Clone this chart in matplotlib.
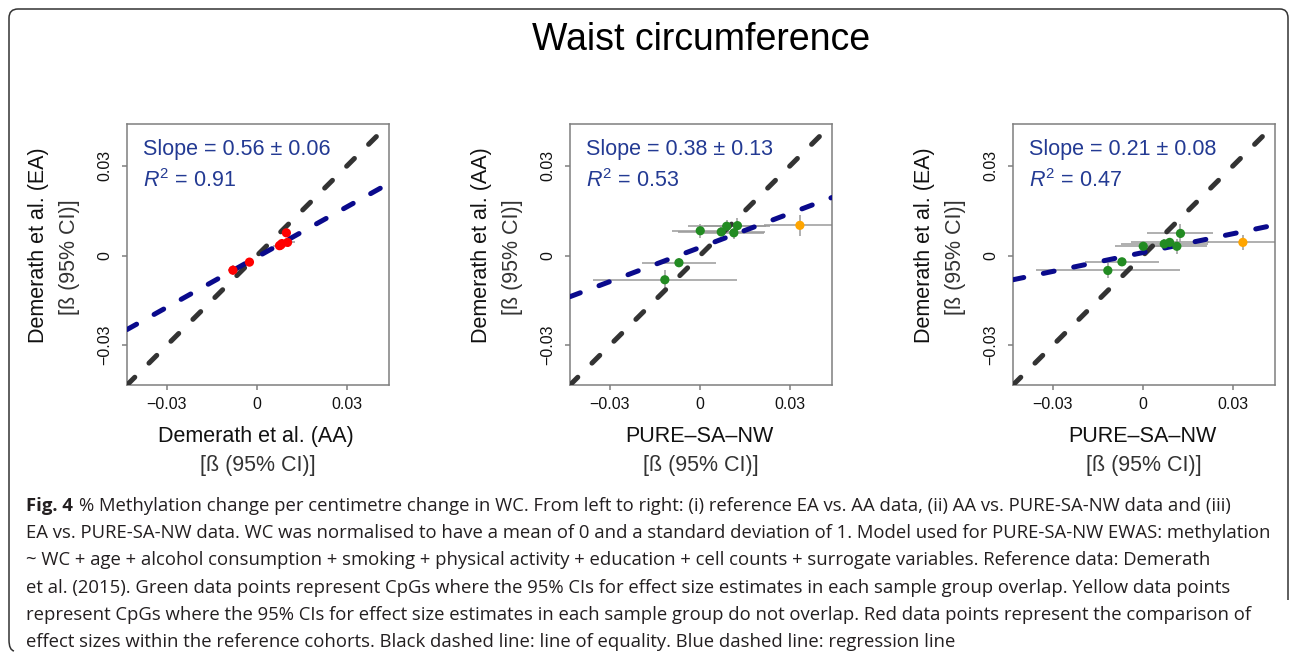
import numpy as np
import matplotlib
matplotlib.use("Agg")
import matplotlib.pyplot as plt
from matplotlib.path import Path
from matplotlib.patches import PathPatch
from matplotlib import transforms as mtransforms

plt.rcParams['font.family'] = ['Liberation Sans', 'DejaVu Sans']
plt.rcParams['mathtext.fontset'] = 'custom'
plt.rcParams['mathtext.rm'] = 'Liberation Sans'
plt.rcParams['mathtext.it'] = 'Liberation Sans:italic'

# ---- data ----
title = "Waist circumference"
ylabels = ["Demerath et al. (EA)", "Demerath et al. (AA)", "Demerath et al. (EA)"]
xlabels = ["Demerath et al. (AA)", "PURE\u2013SA\u2013NW", "PURE\u2013SA\u2013NW"]
unit_label = "[\u00df (95% CI)]"
tick_vals = [-0.03, 0, 0.03]
tick_labels = ["\u22120.03", "0", "0.03"]

# panel 1: EA vs AA (reference cohorts)
x_aa = [-0.0080, -0.0025, 0.0075, 0.0083, 0.0098, 0.0102, 0.0079]
y_ea_ref = [-0.0049, -0.0022, 0.0033, 0.0040, 0.0076, 0.0044, 0.0035]
xerr_aa = [0.0018, 0.0008, 0.0020, 0.0018, 0.0015, 0.0025, 0.0020]
yerr_ea_ref = [0.0017, 0.0008, 0.0015, 0.0015, 0.0015, 0.0015, 0.0015]

# panels 2 and 3: PURE-SA-NW on x
x_pure = [-0.0117, -0.0070, 0.0001, 0.0071, 0.0089, 0.0113, 0.0125, 0.0333]
xerr_pure = [0.0240, 0.0123, 0.0095, 0.0145, 0.0130, 0.0100, 0.0110, 0.0120]
y_aa = [-0.0081, -0.0024, 0.0083, 0.0079, 0.0098, 0.0076, 0.0100, 0.0101]
yerr_aa = [0.0032, 0.0015, 0.0024, 0.0015, 0.0020, 0.0020, 0.0025, 0.0035]
y_ea = [-0.0050, -0.0021, 0.0031, 0.0039, 0.0044, 0.0031, 0.0074, 0.0044]
yerr_ea = [0.0025, 0.0012, 0.0015, 0.0015, 0.0015, 0.0025, 0.0030, 0.0025]
overlap = [True, True, True, True, True, True, True, False]

slopes = [0.56, 0.38, 0.21]
slope_se = [0.06, 0.13, 0.08]
intercepts = [-0.0005, 0.0027, 0.0010]
r2 = [0.91, 0.53, 0.47]

fig_tag = "Fig. 4"
caption = [
    "% Methylation change per centimetre change in WC. From left to right: (i) reference EA vs. AA data, (ii) AA vs. PURE-SA-NW data and (iii)",
    "EA vs. PURE-SA-NW data. WC was normalised to have a mean of 0 and a standard deviation of 1. Model used for PURE-SA-NW EWAS: methylation",
    "~ WC + age + alcohol consumption + smoking + physical activity + education + cell counts + surrogate variables. Reference data: Demerath",
    "et al. (2015). Green data points represent CpGs where the 95% CIs for effect size estimates in each sample group overlap. Yellow data points",
    "represent CpGs where the 95% CIs for effect size estimates in each sample group do not overlap. Red data points represent the comparison of",
    "effect sizes within the reference cohorts. Black dashed line: line of equality. Blue dashed line: regression line",
]

W, H = 1292, 658
fig = plt.figure(figsize=(W / 100, H / 100), dpi=100)
px = mtransforms.Affine2D().scale(1 / W, -1 / H).translate(0, 1) + fig.transFigure

# frame round the figure
verts = [(14, 651), (9, 650), (9, 640), (9, 18), (9, 9), (18, 9),
         (1280, 9), (1288, 9), (1288, 18), (1288, 600)]
codes = [Path.MOVETO, Path.CURVE3, Path.CURVE3, Path.LINETO, Path.CURVE3, Path.CURVE3,
         Path.LINETO, Path.CURVE3, Path.CURVE3, Path.LINETO]
fig.add_artist(PathPatch(Path(verts, codes), transform=px, fill=False,
                         edgecolor='#333333', lw=1.1))

fig.text(701 / W, 1 - 40 / H, title, ha='center', va='center', fontsize=27)

lo, hi = -0.0433, 0.0440
lefts = [127, 570, 1013]
top, aw, ah = 124, 262, 261

panels = [
    (x_aa, y_ea_ref, xerr_aa, yerr_ea_ref, ['#FF0000'] * len(x_aa)),
    (x_pure, y_aa, xerr_pure, yerr_aa, ['#228B22' if o else '#FFA500' for o in overlap]),
    (x_pure, y_ea, xerr_pure, yerr_ea, ['#228B22' if o else '#FFA500' for o in overlap]),
]

for i, (xs, ys, xe, ye, cols) in enumerate(panels):
    ax = fig.add_axes([lefts[i] / W, 1 - (top + ah) / H, aw / W, ah / H])
    ax.set_xlim(lo, hi)
    ax.set_ylim(lo, hi)
    ax.errorbar(xs, ys, xerr=xe, yerr=ye, fmt='none', ecolor='#9a9a9a',
                elinewidth=1.1, capsize=0, zorder=2)
    line = np.array([lo, hi])
    ax.plot(line, line, color='#333333', lw=3.6, dashes=(2.2, 4.0),
            dash_capstyle='round', zorder=3)
    ax.plot(line, slopes[i] * line + intercepts[i], color='#0A0A8C', lw=3.6,
            dashes=(2.2, 4.0), dash_capstyle='round', zorder=3)
    ax.scatter(xs, ys, s=44, c=cols, edgecolors='none', zorder=4)

    ax.set_xticks(tick_vals)
    ax.set_xticklabels(tick_labels)
    ax.set_yticks(tick_vals)
    ax.set_yticklabels(tick_labels, rotation=90, va='center')
    ax.tick_params(direction='out', length=3.6, width=1.1, color='#7f7f7f',
                   labelsize=11.5, labelcolor='#111111')
    ax.tick_params(axis='x', pad=5)
    ax.tick_params(axis='y', pad=7)
    for sp in ax.spines.values():
        sp.set_color('#7f7f7f')
        sp.set_linewidth(1.1)

    ax.annotate("Slope = %.2f \u00b1 %.2f" % (slopes[i], slope_se[i]), xy=(0, 1),
                xycoords='axes fraction', xytext=(11.5, -18.7), textcoords='offset points',
                ha='left', va='center', fontsize=15.5, color='#233A93')
    ax.annotate(r"$R^2$ = %.2f" % r2[i], xy=(0, 1),
                xycoords='axes fraction', xytext=(11.5, -41), textcoords='offset points',
                ha='left', va='center', fontsize=15.5, color='#233A93')

    ax.annotate(ylabels[i], xy=(0, 0.5), xycoords='axes fraction', xytext=(-64, 6.8),
                textcoords='offset points', rotation=90, ha='center', va='center',
                fontsize=15.5, color='#111111')
    ax.annotate(unit_label, xy=(0, 0.5), xycoords='axes fraction', xytext=(-41.5, -1.8),
                textcoords='offset points', rotation=90, ha='center', va='center',
                fontsize=15.5, color='#333333')
    ax.annotate(xlabels[i], xy=(0.5, 0), xycoords='axes fraction', xytext=(-1.5, -37.2),
                textcoords='offset points', ha='center', va='center',
                fontsize=15.5, color='#111111')
    ax.annotate(unit_label, xy=(0.5, 0), xycoords='axes fraction', xytext=(0, -57.6),
                textcoords='offset points', ha='center', va='center',
                fontsize=15.5, color='#333333')

cap_font = dict(fontsize=13.3, family=['Open Sans', 'DejaVu Sans'], color='#231F20')
tag = fig.text(26 / W, 1 - 511 / H, fig_tag, ha='left', va='baseline',
               fontweight='bold', **cap_font)
fig.canvas.draw()
tag_w = tag.get_window_extent().width + 6
for k, txt in enumerate(caption):
    x0 = 26 + (tag_w if k == 0 else 0)
    fig.text(x0 / W, 1 - (511 + k * 27.2) / H, txt, ha='left', va='baseline', **cap_font)

fig.savefig("out.png", dpi=100)
